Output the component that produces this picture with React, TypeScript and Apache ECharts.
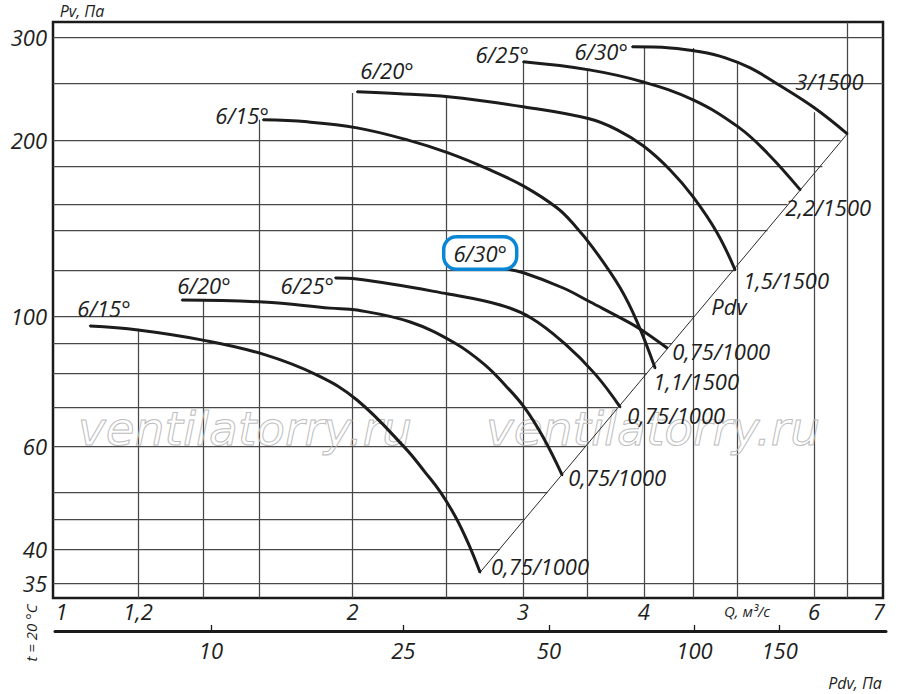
import React, { useEffect, useRef } from "react";
import * as echarts from "echarts";

// ---------- axis ranges ----------
const Q_MIN = 0.98;
const Q_MAX = 7.07;
const P_MIN = 33;
const P_MAX = 318;
const PDV_MIN = 4.76;
const PDV_MAX = 248.9;

// ---------- tick labels ----------
const X_LABELS = [1, 1.2, 2, 3, 4, 6, 7];
const Y_LABELS = [300, 200, 100, 60, 40, 35];
const PDV_TICKS = [10, 25, 50, 100, 150];

// ---------- grid lines (value, and where each line stops) ----------
const Q_GRID = [1.2, 1.4, 1.6, 2, 2.5, 3, 3.5, 4, 4.5, 5, 6, 6.5];
const Q_GRID_TOP = [94.7, 106.5, 216.4, 240.6, 236.9, 271.9, 263.4, 288.4, 287, 272, 223, 318];
const P_GRID = [300, 250, 200, 180, 155, 140, 120, 100, 90, 80, 70, 60, 50, 45, 40, 35];
const P_GRID_END = [7.07, 7.07, 6.39, 6.12, 5.63, 5.37, 4.97, 4.5, 4.28, 4.03, 3.76, 3.48, 3.18, 3.01, 2.84, 7.07];

// ---------- curves [Q m3/s, Pv Pa] ----------
const LOW_15 = [[1.07, 96.2], [1.2, 94.7], [1.4, 91.0], [1.616, 86.1], [1.838, 79.3], [2.021, 71.9], [2.267, 59.5], [2.377, 54.1], [2.464, 50.1], [2.553, 45.5], [2.634, 40.9], [2.709, 36.5]];
const LOW_20 = [[1.332, 106.5], [1.616, 105.7], [1.896, 103.2], [2.021, 102.4], [2.294, 97.7], [2.553, 89.9], [2.742, 82.5], [2.876, 76.2], [3.009, 69.9], [3.148, 62.1], [3.294, 53.5]];
const LOW_25 = [[1.919, 116.2], [2.021, 115.7], [2.511, 109.1], [2.842, 104.5], [3.059, 99.3], [3.31, 89.9], [3.563, 79.6], [3.782, 69.9]];
const LOW_30 = [[2.876, 120.4], [3.009, 118.5], [3.302, 111.7], [3.522, 105.7], [3.873, 97.3], [3.994, 94.3], [4.229, 88.2]];
const UP_15 = [[1.616, 216.4], [1.795, 214.7], [2.021, 209.7], [2.278, 200.0], [2.511, 190.0], [2.774, 177.7], [3.002, 166.9], [3.255, 153.0], [3.397, 142.6], [3.546, 130.7], [3.782, 111.7], [3.938, 97.7], [4.11, 81.5]];
const UP_20 = [[2.021, 241.6], [2.239, 239.7], [2.511, 236.9], [3.002, 227.8], [3.513, 217.3], [3.755, 208.1], [3.994, 195.4], [4.259, 177.7], [4.499, 159.8], [4.764, 138.7], [4.972, 119.9]];
const UP_25 = [[3.002, 271.9], [3.513, 263.4], [3.994, 251.2], [4.499, 234.1], [5.008, 210.5], [5.366, 190.0], [5.806, 164.3]];
const UP_30 = [[3.891, 288.4], [4.259, 287.2], [4.575, 282.8], [4.857, 276.2], [5.154, 265.5], [5.536, 247.4], [6.003, 226.9], [6.494, 204.8]];
const PDV_LINE = [[2.709, 36.5], [6.494, 204.8]];

// ---------- curve labels ----------
const START_TEXT = ["6/15°", "6/20°", "6/25°", "6/30°", "6/15°", "6/20°", "6/25°", "6/30°"];
const END_TEXT = ["0,75/1000", "0,75/1000", "0,75/1000", "0,75/1000", "1,1/1500", "1,5/1500", "2,2/1500", "3/1500"];
const CURVE_DATA = [LOW_15, LOW_20, LOW_25, LOW_30, UP_15, UP_20, UP_25, UP_30];

// label placement (styles, pixels)
const START_OFFSET = [[14, -18], [22, -15], [-28, 7], [-25, -16], [-21, -5], [30, -22], [-21, -8], [-31, 4]];
const END_OFFSET = [[11, -6], [6, 2], [7, 8], [5, 3], [-2, 13], [8, 10], [-15, 17], [-52, -53]];
const BOXED = [false, false, false, true, false, false, false, false];

const FONT = "'Open Sans', 'Noto Sans', sans-serif";
const TEXT_C = "#1e1e1e";
const LINE_C = "#1c1c1c";
const GRID_C = "#474747";

const fmtNum = (v: number) => String(+(+v).toPrecision(4)).replace(".", ",");

function buildOption(): any {
  const gridSegments = [
    ...Q_GRID.map((q, i) => ({ coords: [[q, P_MIN], [q, Q_GRID_TOP[i]]] })),
    ...P_GRID.map((p, i) => ({ coords: [[Q_MIN, p], [P_GRID_END[i], p]] })),
  ];

  const labelBase = {
    show: true,
    position: "inside",
    fontSize: 22,
    lineHeight: 22,
    fontStyle: "italic",
    fontFamily: FONT,
    color: TEXT_C,
    verticalAlign: "middle",
  };

  const curveSeries = CURVE_DATA.map((d, ci) => ({
    type: "line",
    xAxisIndex: 0,
    yAxisIndex: 0,
    z: 3,
    silent: true,
    smooth: 0.4,
    showSymbol: true,
    symbol: "circle",
    symbolSize: 2,
    itemStyle: { color: LINE_C },
    lineStyle: { color: LINE_C, width: 3 },
    emphasis: { disabled: true },
    label: { show: false },
    data: d.map((pt, i) => {
      if (i === 0) {
        const lab: any = {
          ...labelBase,
          formatter: START_TEXT[ci],
          align: "center",
          offset: START_OFFSET[ci],
        };
        if (BOXED[ci]) {
          Object.assign(lab, {
            borderColor: "#0a86d6",
            borderWidth: 3.5,
            borderRadius: 11,
            lineHeight: 24,
            padding: [3, 8, 2, 8],
            backgroundColor: "#ffffff",
          });
        }
        return { value: pt, label: lab };
      }
      if (i === d.length - 1) {
        return {
          value: pt,
          label: { ...labelBase, formatter: END_TEXT[ci], align: "left", offset: END_OFFSET[ci] },
        };
      }
      return { value: pt };
    }),
  }));

  const txt = (text: string, x: number, y: number, size: number, extra: any = {}) => ({
    type: "text",
    x,
    y,
    z: 5,
    silent: true,
    style: {
      text,
      fill: TEXT_C,
      font: `italic ${size}px ${FONT}`,
      align: "center",
      verticalAlign: "middle",
    },
    ...extra,
  });

  const watermark = (x: number) => ({
    type: "text",
    x,
    y: 428,
    z: 1.5,
    silent: true,
    style: {
      text: "ventilatorry.ru",
      fill: "rgba(255,255,255,0)",
      stroke: "#bdbdbd",
      lineWidth: 1,
      font: "italic 47px 'DejaVu Sans', sans-serif",
      align: "center",
      verticalAlign: "middle",
    },
  });

  return {
    animation: false,
    backgroundColor: "#ffffff",
    grid: [
      { left: 53, top: 22, width: 830, height: 576, show: true, borderColor: "#1a1a1a", borderWidth: 2.5, backgroundColor: "transparent" },
      { left: 55, top: 630, width: 831, height: 1 },
    ],
    xAxis: [
      {
        type: "log",
        gridIndex: 0,
        min: Q_MIN,
        max: Q_MAX,
        axisLine: { show: false },
        axisTick: { show: false },
        splitLine: { show: false },
        minorTick: { show: false },
        axisLabel: {
          customValues: X_LABELS,
          formatter: (v: number) => fmtNum(v),
          fontSize: 22,
          fontStyle: "italic",
          fontFamily: FONT,
          color: TEXT_C,
          margin: 2,
        },
      },
      {
        type: "log",
        gridIndex: 1,
        min: PDV_MIN,
        max: PDV_MAX,
        position: "bottom",
        axisLine: { show: true, lineStyle: { color: "#1a1a1a", width: 3 } },
        axisTick: { show: true, inside: true, length: 6, customValues: PDV_TICKS, lineStyle: { color: "#1a1a1a", width: 1.3 } },
        splitLine: { show: false },
        axisLabel: {
          customValues: PDV_TICKS,
          formatter: (v: number) => fmtNum(v),
          fontSize: 22,
          fontStyle: "italic",
          fontFamily: FONT,
          color: TEXT_C,
          margin: 8,
        },
      },
    ],
    yAxis: [
      {
        type: "log",
        gridIndex: 0,
        min: P_MIN,
        max: P_MAX,
        axisLine: { show: false },
        axisTick: { show: false },
        splitLine: { show: false },
        axisLabel: {
          customValues: Y_LABELS,
          formatter: (v: number) => fmtNum(v),
          fontSize: 22,
          fontStyle: "italic",
          fontFamily: FONT,
          color: TEXT_C,
          margin: 6,
        },
      },
      { type: "value", gridIndex: 1, show: false, min: 0, max: 1 },
    ],
    series: [
      {
        type: "lines",
        coordinateSystem: "cartesian2d",
        xAxisIndex: 0,
        yAxisIndex: 0,
        polyline: false,
        silent: true,
        z: 1,
        lineStyle: { color: GRID_C, width: 1.25, opacity: 1 },
        data: gridSegments,
      },
      {
        type: "line",
        xAxisIndex: 0,
        yAxisIndex: 0,
        z: 2,
        silent: true,
        showSymbol: false,
        lineStyle: { color: "#2a2a2a", width: 1 },
        data: PDV_LINE,
      },
      ...curveSeries,
      { type: "line", xAxisIndex: 1, yAxisIndex: 1, data: [], showSymbol: false },
    ],
    graphic: [
      watermark(245),
      watermark(653),
      txt("Pv, Па", 82, 11, 16),
      txt("Q, м³/с", 747, 611, 15),
      txt("Pdv, Па", 855, 683, 16),
      txt("Pdv", 729, 306, 22),
      txt("t = 20 °C", 31, 633, 15, { rotation: Math.PI / 2 }),
    ],
  };
}

export default function App() {
  const ref = useRef<HTMLDivElement>(null);
  useEffect(() => {
    document.body.style.margin = "0";
    const chart = echarts.init(ref.current as HTMLDivElement, null, { renderer: "svg" });
    chart.setOption(buildOption());
    return () => chart.dispose();
  }, []);
  return <div ref={ref} style={{ width: 900, height: 694 }} />;
}
